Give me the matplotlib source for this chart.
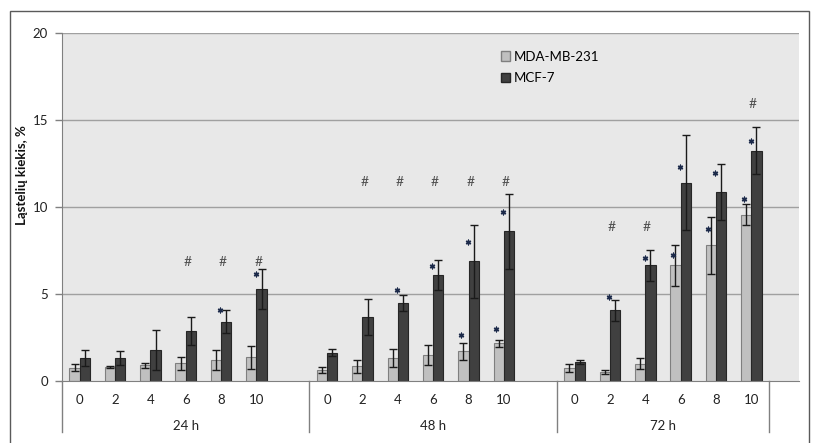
import matplotlib
matplotlib.use('Agg')
import matplotlib.pyplot as plt
from matplotlib.patches import Rectangle, Patch
import numpy as np

plt.rcParams['font.family'] = ['Lato', 'DejaVu Sans']

# data
doses = ['0', '2', '4', '6', '8', '10']
times = ['24 h', '48 h', '72 h']
mda = [0.76, 0.80, 0.90, 1.02, 1.19, 1.36,
       0.63, 0.84, 1.34, 1.49, 1.70, 2.16,
       0.73, 0.52, 1.00, 6.65, 7.80, 9.56]
mda_err = [0.20, 0.05, 0.15, 0.38, 0.57, 0.67,
           0.16, 0.38, 0.52, 0.56, 0.50, 0.19,
           0.23, 0.11, 0.30, 1.19, 1.64, 0.61]
mcf = [1.30, 1.30, 1.78, 2.87, 3.41, 5.29,
       1.63, 3.68, 4.48, 6.11, 6.88, 8.60,
       1.11, 4.06, 6.65, 11.40, 10.86, 13.24]
mcf_err = [0.46, 0.40, 1.13, 0.80, 0.67, 1.17,
           0.19, 1.02, 0.48, 0.86, 2.09, 2.16,
           0.11, 0.61, 0.90, 2.72, 1.63, 1.34]

# significance marks (bar index, height)
star_mda_idx = [10, 11, 15, 16, 17]
star_mda_y = [2.66, 2.99, 7.26, 8.74, 10.44]
star_mcf_idx = [4, 5, 8, 9, 10, 11, 13, 14, 15, 16, 17]
star_mcf_y = [4.08, 6.13, 5.25, 6.6, 7.97, 9.73, 4.83, 7.09, 12.3, 11.97, 13.79]
hash_idx = [3, 4, 5, 7, 8, 9, 10, 11, 13, 14, 17]
hash_y = [6.85, 6.85, 6.85, 11.45, 11.45, 11.45, 11.45, 11.45, 8.87, 8.87, 15.9]

# slot positions: 7 slots per time group (6 doses + gap)
slot = np.array([(k // 6) * 7 + k % 6 + 0.5 for k in range(len(mda))])
bw = 0.29

fig = plt.figure(figsize=(8.14, 4.43), dpi=100)
ax = fig.add_axes([62 / 814, 1 - 381 / 443, (799 - 62) / 814, (381 - 33) / 443])
ax.set_facecolor('#E8E8E8')

# outer frame
fig.patches.append(Rectangle((10 / 814, -0.05), 799 / 814, 1.05 - 11 / 443,
                             transform=fig.transFigure, fill=False,
                             edgecolor='#5a5a5a', lw=1.0))

for y in [5, 10, 15, 20]:
    ax.axhline(y, color='#A0A0A0', lw=1.0, zorder=1)

ax.bar(slot - bw / 2, mda, bw, color='#C0C0C0', edgecolor='#7F7F7F', lw=0.8, zorder=2)
ax.bar(slot + bw / 2, mcf, bw, color='#404040', edgecolor='#262626', lw=0.8, zorder=2)
ax.errorbar(slot - bw / 2, mda, yerr=mda_err, fmt='none', ecolor='#1a1a1a', elinewidth=1, capsize=3, capthick=1, zorder=3)
ax.errorbar(slot + bw / 2, mcf, yerr=mcf_err, fmt='none', ecolor='#1a1a1a', elinewidth=1, capsize=3, capthick=1, zorder=3)

star_col = '#1c2a4a'
ax.scatter(slot[star_mda_idx] - 0.22, star_mda_y, marker=(6, 2, 0), s=11, color=star_col, lw=1.0, zorder=4)
ax.scatter(slot[star_mcf_idx] - 0.02, star_mcf_y, marker=(6, 2, 0), s=11, color=star_col, lw=1.0, zorder=4)
for k, y in zip(hash_idx, hash_y):
    ax.text(slot[k] + 0.05, y, '#', ha='center', va='center', fontsize=10, color='#505050')

ax.set_xlim(0, (799 - 62) / 35.35)
ax.set_ylim(0, 20)
ax.set_yticks([0, 5, 10, 15, 20])
ax.tick_params(axis='y', length=5, width=1, color='#808080', labelsize=9.5, pad=5, labelcolor='#222222')
ax.set_xticks([])
for s in ['top', 'right']:
    ax.spines[s].set_visible(False)
ax.spines['left'].set_color('#808080')
ax.spines['bottom'].set_color('#808080')

# category axis: doses, time groups and separators
tr = ax.get_xaxis_transform()
for k in range(len(mda)):
    ax.text(slot[k], -0.055, doses[k % 6], transform=tr, ha='center', va='center', fontsize=9.5, color='#222222')
group_edges = [0, 7, 14, 20]
for g, name in enumerate(times):
    ax.text((group_edges[g] + group_edges[g + 1]) / 2, -0.128, name, transform=tr,
            ha='center', va='center', fontsize=9.5, color='#222222')
for e in group_edges:
    ax.plot([e, e], [0, -0.147], transform=tr, color='#808080', lw=1, clip_on=False)

ax.set_ylabel('Ląstelių kiekis, %', fontsize=9.5, fontweight='bold', color='#111111')
ax.yaxis.set_label_coords(-(62 - 28) / 737, (381 - 175) / 348)

handles = [Patch(facecolor='#C0C0C0', edgecolor='#7F7F7F'), Patch(facecolor='#404040', edgecolor='#262626')]
ax.legend(handles, ['MDA-MB-231', 'MCF-7'], loc='upper left', bbox_to_anchor=((494 - 62) / 737, 1 - 11 / 348),
          frameon=False, fontsize=9.5, handlelength=0.7, handleheight=0.7, handletextpad=0.3,
          labelspacing=0.7, borderpad=0)

fig.savefig('out.png', dpi=100)
